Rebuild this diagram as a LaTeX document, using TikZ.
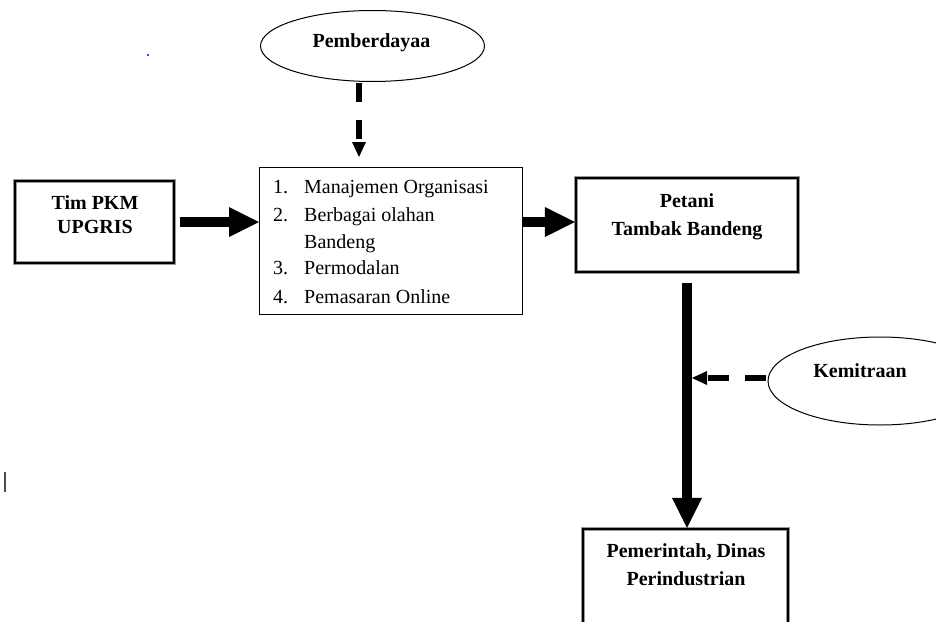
\documentclass[tikz,border=0pt]{standalone}
\usepackage{fontspec}
\setmainfont{Liberation Serif}
\usetikzlibrary{arrows.meta,shapes.geometric}
\begin{document}
\begin{tikzpicture}[x=1pt,y=-1pt,
  heavybox/.style={rectangle, draw=black, line width=2.2pt, preaction={draw=black!40, line width=4.4pt}, inner sep=0pt},
  thinbox/.style={rectangle, draw=black, line width=1pt, inner sep=0pt},
  oval/.style={ellipse, draw=black, line width=1pt, inner sep=0pt},
  btext/.style={font=\fontsize{20}{24}\selectfont\bfseries, anchor=base, inner sep=0pt},
  ltext/.style={font=\fontsize{20}{24}\selectfont, anchor=base west, inner sep=0pt},
  bigarrow/.style={line width=10pt, -{Triangle[length=30pt,width=30pt,line width=0pt]}},
  dasharrow/.style={line width=6pt, -{Triangle[length=15pt,width=14pt,line width=0pt]}}
]
\useasboundingbox (0,0) rectangle (936,621);
\clip (0,0) rectangle (936,621);

% boxes
\node[heavybox, minimum width=159pt, minimum height=82pt] (tim) at (94.5,222) {};
\node[thinbox, minimum width=262.5pt, minimum height=147pt] (list) at (390.75,241) {};
\node[heavybox, minimum width=222pt, minimum height=94pt] (pet) at (687,225) {};
\node[heavybox, minimum width=205pt, minimum height=120pt] (pem) at (685.5,589) {};
\node[oval, minimum width=224pt, minimum height=71pt] (pe) at (372.5,46) {};
\node[oval, minimum width=224pt, minimum height=88pt] (kem) at (880,381) {};

% texts
\node[btext] (tim1) at (95,209) {Tim PKM};
\node[btext] (tim2) at (95,233) {UPGRIS};
\node[btext] (pet1) at (687,207) {Petani};
\node[btext] (pet2) at (687,235) {Tambak Bandeng};
\node[btext] (pem1) at (686,557) {Pemerintah, Dinas};
\node[btext] (pem2) at (686,585) {Perindustrian};
\node[btext] (pet3) at (371.5,47) {Pemberdayaa};
\node[btext] (kem1) at (860,377) {Kemitraan};

\node[ltext] (n1) at (273,193) {1.};
\node[ltext] (t1) at (304,193) {Manajemen Organisasi};
\node[ltext] (n2) at (273,221) {2.};
\node[ltext] (t2) at (304,221) {Berbagai olahan};
\node[ltext] (t2b) at (304,248) {Bandeng};
\node[ltext] (n3) at (273,274) {3.};
\node[ltext] (t3) at (304,274) {Permodalan};
\node[ltext] (n4) at (273,303) {4.};
\node[ltext] (t4) at (304,303) {Pemasaran Online};

% thick arrows
\draw[bigarrow, shorten <=4.5pt] (tim.east) -- (tim.east -| list.west);
\draw[bigarrow] (list.east |- tim.east) -- (pet.west |- tim.east);
\draw[bigarrow, shorten <=10pt] (pet.south) -- (pet.south |- pem.north);

% dashed arrows
\coordinate (pax) at (359,0);
\draw[dasharrow, dash pattern=on 19pt off 18pt, shorten <=1pt, shorten >=10pt] (pe.south -| pax) -- (list.north -| pax);
\coordinate (shaftR) at (692,378);
\draw[dasharrow, dash pattern=on 21pt off 16pt, shorten <=1.5pt] (shaftR -| kem.west) -- (shaftR);

% stray marks
\fill[blue] (148,55) circle (1.2pt);
\draw[line width=2pt, black!70] (4.5,472) -- (4.5,492);
\end{tikzpicture}
\end{document}
